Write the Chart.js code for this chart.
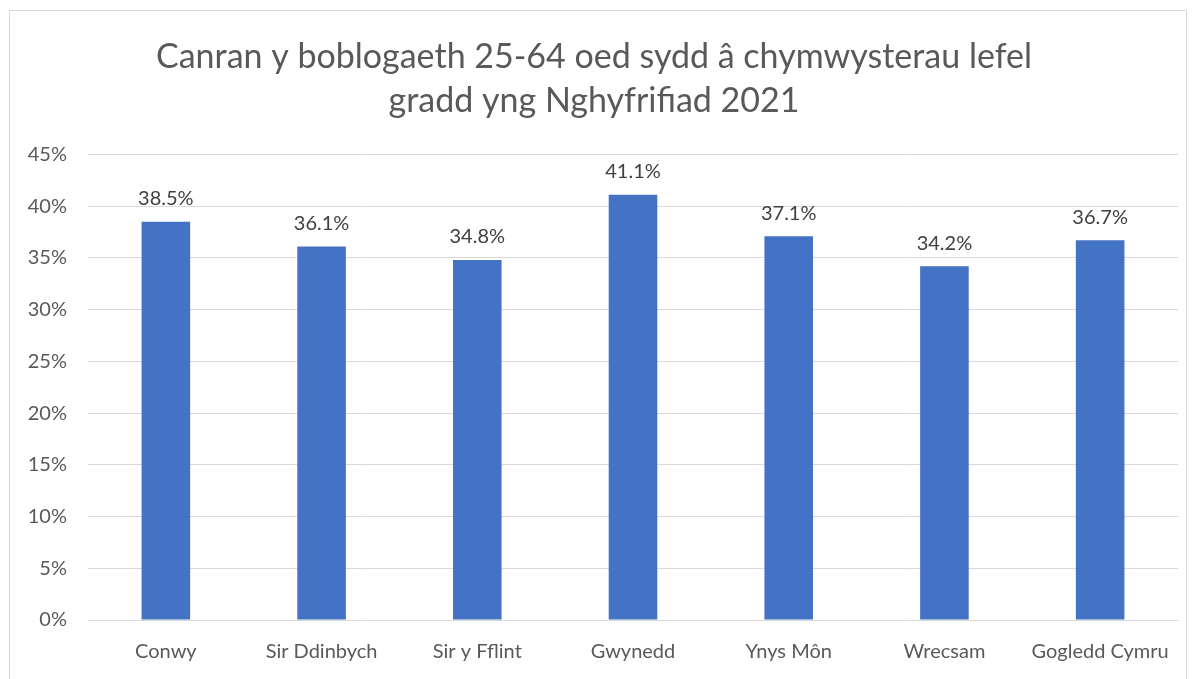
<!DOCTYPE html>
<html>
<head>
<meta charset="utf-8">
<script src="https://cdn.jsdelivr.net/npm/chart.js@4"></script>
<style>
  body { margin: 0; background: #fff; }
  #frame { position: absolute; left: 9px; top: 10px; width: 1178px; height: 700px; border: 1px solid #d9d9d9; box-sizing: border-box; }
  #wrap { position: absolute; left: 0; top: 0; width: 1195px; height: 679px; }
</style>
</head>
<body>
<div id="frame"></div>
<div id="wrap"><canvas id="mycanvas" width="1195" height="679"></canvas></div>
<script>
var siroedd = ['Conwy', 'Sir Ddinbych', 'Sir y Fflint', 'Gwynedd', 'Ynys Môn', 'Wrecsam', 'Gogledd Cymru'];
var canran = [38.5, 36.1, 34.8, 41.1, 37.1, 34.2, 36.7];
var teitl = ['Canran y boblogaeth 25-64 oed sydd â chymwysterau lefel', 'gradd yng Nghyfrifiad 2021'];

var ffont = 'Lato, "Open Sans", sans-serif';

// labeli data uwchben y barrau
var labeliData = {
  id: 'labeliData',
  afterDatasetsDraw: function(chart) {
    var ctx = chart.ctx;
    var meta = chart.getDatasetMeta(0);
    ctx.save();
    ctx.font = '20px ' + ffont;
    ctx.fillStyle = '#404040';
    ctx.textAlign = 'center';
    ctx.textBaseline = 'bottom';
    meta.data.forEach(function(bar, i) {
      ctx.fillText(canran[i].toFixed(1) + '%', bar.x, bar.y - 13);
    });
    ctx.restore();
  }
};

var ctx = document.getElementById('mycanvas');
var barGraph = new Chart(ctx, {
  type: 'bar',
  data: {
    labels: siroedd,
    datasets: [{
      data: canran,
      backgroundColor: '#4472C4',
      borderWidth: 0,
      categoryPercentage: 0.8,
      barPercentage: 0.39
    }]
  },
  options: {
    responsive: false,
    animation: false,
    layout: { padding: { left: 10, right: 17, top: 10, bottom: 15 } },
    plugins: {
      legend: { display: false },
      tooltip: { enabled: false },
      title: {
        display: true,
        text: teitl,
        color: '#595959',
        font: { family: ffont, size: 34, weight: 'normal', lineHeight: 1.3 },
        padding: { top: 25, bottom: 31 }
      }
    },
    scales: {
      y: {
        min: 0,
        max: 45,
        afterFit: function(scale) { scale.width = 78; },
        ticks: {
          stepSize: 5,
          padding: 21,
          color: '#595959',
          font: { family: ffont, size: 20 },
          callback: function(v) { return v + '%'; }
        },
        grid: { color: '#d9d9d9', drawTicks: false },
        border: { display: false }
      },
      x: {
        afterFit: function(scale) { scale.height = 44; },
        ticks: {
          padding: 20,
          color: '#595959',
          font: { family: ffont, size: 20 }
        },
        grid: { display: false, drawTicks: false },
        border: { display: false }
      }
    }
  },
  plugins: [labeliData]
});
</script>
</body>
</html>
